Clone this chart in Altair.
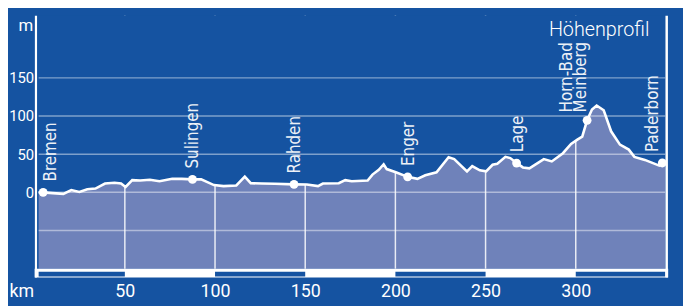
import altair as alt
import pandas as pd

BG = "#1553a1"
FILL = "#6f82ba"
WHITE = "#ffffff"

# ---- data ----
PROFILE_KM = [2.2, 4.7, 10, 15.9, 20.3, 24.8, 29.2, 33.7, 39, 44.3, 47.9, 50.4, 54.1, 58.5,
              63.9, 69.2, 76.3, 81.6, 87.5, 92.3, 99.4, 104.7, 111.8, 116.5, 119.8, 126,
              133.1, 143.8, 150.9, 157.1, 159.8, 168.6, 172.2, 175.8, 184.6, 187.3, 190.8,
              193.5, 195.2, 200.6, 206.8, 212.2, 216.6, 222.8, 229.5, 232.6, 239.7, 242.6,
              246.8, 250.3, 253.9, 256.5, 261, 263.7, 267.2, 270.7, 274.3, 282.3, 286.7,
              292.9, 297.4, 300.9, 303.6, 306.3, 309, 311.6, 315.5, 319.6, 324.5, 329.4,
              332.5, 338.3, 346.3, 348, 349.6]
PROFILE_M = [0, 0, -1, -2, 3, 0.5, 4, 5, 11.5, 12.5, 11.5, 7, 16, 15.5,
             16.4, 14.6, 17.7, 17.7, 17, 17, 9.5, 8.2, 9, 20.5, 12, 11.5,
             11.2, 10.5, 10.3, 8.2, 11.6, 12, 16, 14.5, 15.5, 23.3, 29.5,
             36.8, 30.5, 26, 20.3, 17.7, 22.4, 26.3, 46, 43.6, 27.5, 34.5,
             28.8, 27.5, 36.2, 37.5, 46.5, 44.9, 38.4, 32.7, 31.5, 43.6, 40.5,
             51.3, 63.5, 69, 73, 94.4, 108.5, 113.8, 107.5, 80, 62.5, 56,
             46.5, 42.5, 35, 38, 38]

CITY = ["Bremen", "Sulingen", "Rahden", "Enger", "Lage", "Horn-Bad Meinberg", "Paderborn"]
CITY_KM = [4.7, 87.5, 143.8, 206.8, 267.2, 306.3, 348.0]
CITY_M = [0, 17, 10.5, 20.3, 38.4, 94.4, 38.5]

X_TICKS = [50, 100, 150, 200, 250, 300]
Y_TICKS = [0, 50, 100, 150]
Y_GRID = [-50, 0, 50, 100, 150]
SEG_START = [2.2, 100, 200, 300]
SEG_END = [50, 150, 250, 349.6]
X_DOMAIN = [2.2, 349.6]
Y_DOMAIN = [-100, 231.5]
TITLE = ["Höhenprofil"]

W, H = 634, 256
PAD_L = 31
FONT = "Roboto, sans-serif"
NARROW = "Liberation Sans Narrow, DejaVu Sans Condensed, Roboto Condensed, Roboto, sans-serif"

profile = pd.DataFrame({"km": PROFILE_KM, "m": PROFILE_M})
cities = pd.DataFrame({"city": CITY, "km": CITY_KM, "m": CITY_M})
vgrid = pd.DataFrame({"km": X_TICKS})
hgrid = pd.DataFrame({"m": Y_GRID})
segs = pd.DataFrame({"km": SEG_START, "b": SEG_END})
one = pd.DataFrame({"t": TITLE})

xs = alt.Scale(domain=X_DOMAIN, nice=False, zero=False)
ys = alt.Scale(domain=Y_DOMAIN, nice=False, zero=False)

x_axis = alt.Axis(values=X_TICKS, domain=False, ticks=False, tickSize=0, grid=False,
                  labelFontSize=18, labelColor=WHITE, labelFont=FONT, labelPadding=23,
                  labelBaseline="middle", labelOverlap=False,
                  title="km", titleFont=FONT, titleFontSize=18, titleFontWeight="normal",
                  titleColor=WHITE, titleX=-(PAD_L - 1), titleY=23, titleAlign="left",
                  titleBaseline="middle", titleAngle=0)
y_axis = alt.Axis(values=Y_TICKS, domain=False, ticks=False, tickSize=0, grid=False,
                  labelFontSize=15, labelColor=WHITE, labelFont=FONT, labelPadding=5,
                  labelAlign="right", labelBaseline="middle", labelOverlap=False,
                  title="m", titleFont=FONT, titleFontSize=17, titleFontWeight="normal",
                  titleColor=WHITE, titleX=-6, titleY=15, titleAlign="right",
                  titleBaseline="alphabetic", titleAngle=0)


def X(field="km"):
    return alt.X(f"{field}:Q", scale=xs, axis=x_axis, title="km")


def Y(field="m"):
    return alt.Y(f"{field}:Q", scale=ys, axis=y_axis, title="m")


fill = alt.Chart(profile).mark_area(color=FILL, opacity=1).encode(
    x=X(), y=Y(), y2=alt.datum(Y_DOMAIN[0]),
)

vrules = alt.Chart(vgrid).mark_rule(color=WHITE, strokeWidth=1.5, opacity=0.85).encode(
    x=X(),
)

cover = alt.Chart(profile).mark_area(color=BG, opacity=1).encode(
    x=X(), y=Y(), y2=alt.datum(Y_DOMAIN[1]),
)

hrules = alt.Chart(hgrid).mark_rule(color=WHITE, strokeWidth=1.5, opacity=0.45).encode(
    y=Y(),
)

line = alt.Chart(profile).mark_line(color=WHITE, strokeWidth=2.6).encode(
    x=X(), y=Y(),
)

pts = alt.Chart(cities).mark_point(filled=True, color=WHITE, size=80, opacity=1, shape="circle").encode(
    x=X(), y=Y(),
)


def city_text(dx, dy, **kw):
    return alt.Chart(cities).mark_text(
        angle=270, align="left", baseline="alphabetic", dx=dx, dy=dy,
        font=NARROW, fontSize=17, fontWeight=300, color=WHITE, opacity=0.92, **kw
    ).encode(
        x=X(), y=Y(), text="city:N",
    )


lab_main = city_text(11, 6).transform_filter(
    "datum.city != 'Bremen' && datum.city != 'Paderborn' && datum.city != 'Horn-Bad Meinberg'")
lab_bremen = city_text(11, 13).transform_filter("datum.city == 'Bremen'")
lab_pader = city_text(11, -4).transform_filter("datum.city == 'Paderborn'")
lab_horn = city_text(8, -15, lineBreak=" ", lineHeight=14).transform_filter(
    "datum.city == 'Horn-Bad Meinberg'")

title = alt.Chart(one).mark_text(align="right", baseline="alphabetic", font=FONT,
                                 fontSize=20, fontWeight=300, color=WHITE).encode(
    text="t:N", x=alt.value(W - 16), y=alt.value(20.5))

band = alt.Chart(one).mark_rect(color=WHITE).encode(
    x=alt.value(-4), x2=alt.value(W + 3), y=alt.value(H), y2=alt.value(H + 9))

segbars = alt.Chart(segs).mark_rect(color=BG).encode(
    x=X(), x2="b:Q",
    y=alt.value(H + 3), y2=alt.value(H + 8))

left_rule = alt.Chart(one).mark_rule(color=WHITE, strokeWidth=2.2).encode(
    x=alt.value(-2.7), y=alt.value(0), y2=alt.value(H + 9))
right_rule = alt.Chart(one).mark_rule(color=WHITE, strokeWidth=2.5).encode(
    x=alt.value(W + 1.5), y=alt.value(0), y2=alt.value(H + 9))

chart = alt.layer(
    fill, vrules, cover, hrules, line, pts,
    lab_main, lab_bremen, lab_pader, lab_horn, title,
    band, segbars, left_rule, right_rule,
).properties(
    width=W, height=H,
    autosize=alt.AutoSizeParams(type="none"),
    padding={"left": PAD_L, "top": 6, "right": 683 - PAD_L - W, "bottom": 36},
    background=BG,
).configure_view(stroke=None)

chart.save("out.html", embed_options={"renderer": "svg", "actions": False})
